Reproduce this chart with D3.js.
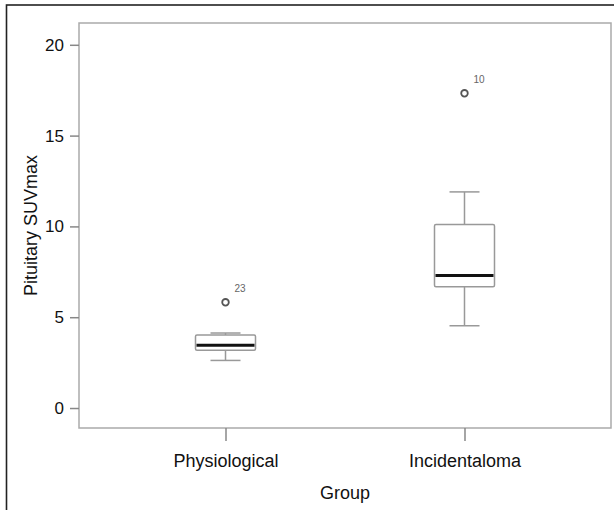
<!DOCTYPE html>
<html>
<head>
<meta charset="utf-8">
<script src="https://cdn.jsdelivr.net/npm/d3@7"></script>
<style>
  body { margin: 0; background: white; }
  text { font-family: "Liberation Sans", Arial, sans-serif; }
</style>
</head>
<body>
<script>
// box plot summary per group
var groups = ["Physiological", "Incidentaloma"];
var lowWhisker = [2.62, 4.53];
var q1 = [3.18, 6.68];
var medians = [3.45, 7.3];
var q3 = [4.02, 10.1];
var highWhisker = [4.13, 11.9];
var outlierGroup = ["Physiological", "Incidentaloma"];
var outlierValue = [5.82, 17.33];
var outlierLabel = ["23", "10"];
var yTicks = [0, 5, 10, 15, 20];

var width = 614,
    height = 510;

var svg = d3.select("body").append("svg")
  .attr("width", width)
  .attr("height", height);

// outer frame
svg.append("rect")
  .attr("x", 6.5)
  .attr("y", 5)
  .attr("width", 640)
  .attr("height", 540)
  .style("fill", "none")
  .style("stroke", "#222")
  .style("stroke-width", 1.6);

var pLeft = 79, pRight = 611, pTop = 23, pBottom = 428;

var x = d3.scalePoint()
  .domain(groups)
  .range([pLeft, pRight])
  .padding(0.613);

var y = d3.scaleLinear()
  .domain([-1.1, 21.2])
  .range([pBottom, pTop]);

// plot frame
svg.append("rect")
  .attr("x", pLeft)
  .attr("y", pTop)
  .attr("width", pRight - pLeft)
  .attr("height", pBottom - pTop)
  .style("fill", "none")
  .style("stroke", "#aaa")
  .style("stroke-width", 1.5);

var yAxis = svg.append("g")
  .attr("transform", "translate(" + pLeft + ",0)")
  .call(d3.axisLeft(y).tickValues(yTicks).tickSize(9).tickPadding(6));
yAxis.select(".domain").remove();
yAxis.selectAll(".tick line").style("stroke", "#888").style("stroke-width", 1.5);
yAxis.selectAll(".tick text").style("font-size", "17px").style("fill", "#111");

var xAxis = svg.append("g")
  .attr("transform", "translate(0," + pBottom + ")")
  .call(d3.axisBottom(x).tickSize(13).tickPadding(13));
xAxis.select(".domain").remove();
xAxis.selectAll(".tick line").style("stroke", "#888").style("stroke-width", 1.5);
xAxis.selectAll(".tick text").style("font-size", "18px").style("fill", "#111");

svg.append("text")
  .attr("x", (pLeft + pRight) / 2)
  .attr("y", 499)
  .attr("text-anchor", "middle")
  .style("font-size", "18px")
  .style("fill", "#111")
  .text("Group");

svg.append("text")
  .attr("transform", "translate(37," + ((pTop + pBottom) / 2) + ") rotate(-90)")
  .attr("text-anchor", "middle")
  .style("font-size", "18px")
  .style("fill", "#111")
  .text("Pituitary SUVmax");

var boxW = 60, capW = 30;
var data = groups.map(function(g, i) {
  return { group: g, lo: lowWhisker[i], q1: q1[i], med: medians[i], q3: q3[i], hi: highWhisker[i] };
});

var box = svg.append("g").selectAll("g")
  .data(data)
  .enter().append("g");

box.append("line")
  .attr("x1", d => x(d.group)).attr("x2", d => x(d.group))
  .attr("y1", d => y(d.lo)).attr("y2", d => y(d.q1))
  .style("stroke", "#999").style("stroke-width", 1.5);
box.append("line")
  .attr("x1", d => x(d.group)).attr("x2", d => x(d.group))
  .attr("y1", d => y(d.q3)).attr("y2", d => y(d.hi))
  .style("stroke", "#999").style("stroke-width", 1.5);
box.append("line")
  .attr("x1", d => x(d.group) - capW / 2).attr("x2", d => x(d.group) + capW / 2)
  .attr("y1", d => y(d.lo)).attr("y2", d => y(d.lo))
  .style("stroke", "#999").style("stroke-width", 1.5);
box.append("line")
  .attr("x1", d => x(d.group) - capW / 2).attr("x2", d => x(d.group) + capW / 2)
  .attr("y1", d => y(d.hi)).attr("y2", d => y(d.hi))
  .style("stroke", "#999").style("stroke-width", 1.5);
box.append("rect")
  .attr("x", d => x(d.group) - boxW / 2)
  .attr("y", d => y(d.q3))
  .attr("width", boxW)
  .attr("height", d => y(d.q1) - y(d.q3))
  .attr("rx", 1.5)
  .style("fill", "white")
  .style("stroke", "#999")
  .style("stroke-width", 1.5);
box.append("line")
  .attr("x1", d => x(d.group) - boxW / 2 + 1).attr("x2", d => x(d.group) + boxW / 2 - 1)
  .attr("y1", d => y(d.med)).attr("y2", d => y(d.med))
  .style("stroke", "#111").style("stroke-width", 3);

var out = svg.append("g").selectAll("g")
  .data(outlierValue.map(function(v, i) { return { group: outlierGroup[i], v: v, label: outlierLabel[i] }; }))
  .enter().append("g");

out.append("circle")
  .attr("cx", d => x(d.group))
  .attr("cy", d => y(d.v))
  .attr("r", 3.3)
  .style("fill", "white")
  .style("stroke", "#555")
  .style("stroke-width", 1.8);

out.append("text")
  .attr("x", d => x(d.group) + 9)
  .attr("y", d => y(d.v) - 10)
  .style("font-size", "10px")
  .style("fill", "#666")
  .text(d => d.label);
</script>
</body>
</html>
